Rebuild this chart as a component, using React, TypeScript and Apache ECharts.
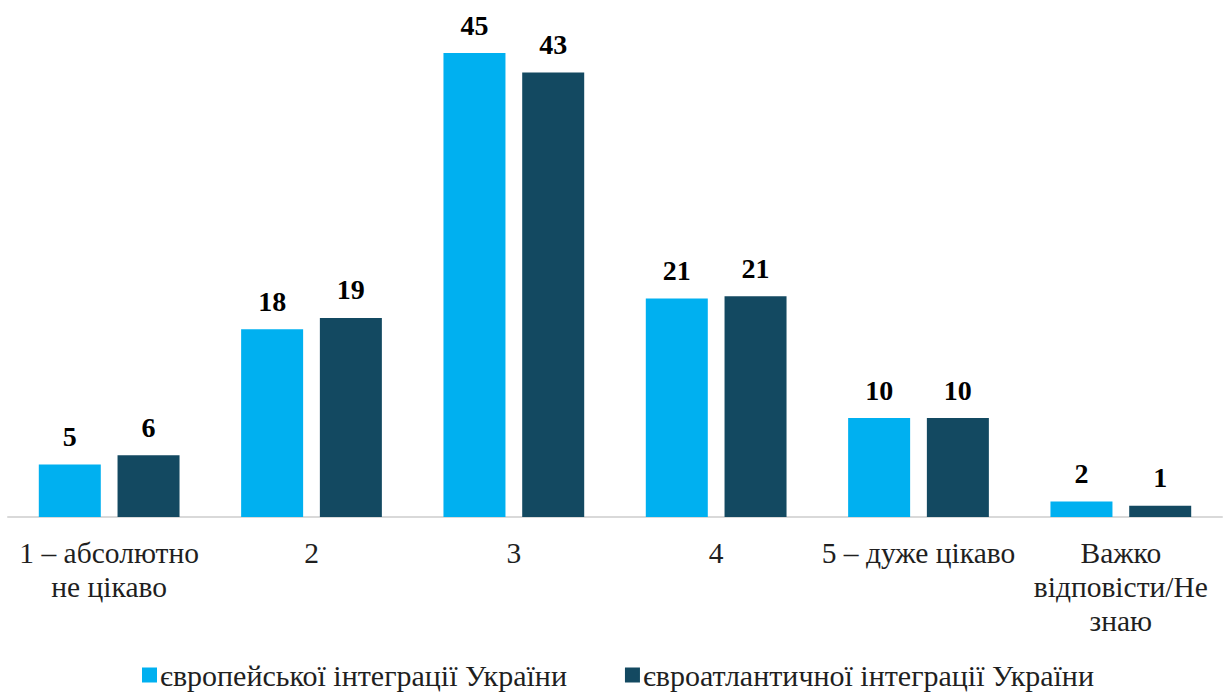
import React, { useEffect, useRef } from "react";
import * as echarts from "echarts";

const categories = [
  "1 – абсолютно\nне цікаво",
  "2",
  "3",
  "4",
  "5 – дуже цікаво",
  "Важко\nвідповісти/Не\nзнаю",
];
const seriesNames = ["європейської інтеграції України", "євроатлантичної інтеграції України"];
const european = [5.1, 18.2, 45, 21.2, 9.6, 1.5];
const euroAtlantic = [6.0, 19.3, 43.1, 21.4, 9.6, 1.1];
const colors = ["#00B0F0", "#134961"];

const FONT = "Times New Roman";

export default function App() {
  const ref = useRef<HTMLDivElement>(null);
  useEffect(() => {
    if (!ref.current) return;
    const chart = echarts.init(ref.current, null, { renderer: "svg" });
    const label = {
      show: true,
      position: "top",
      distance: 14,
      fontFamily: FONT,
      fontWeight: "bold",
      fontSize: 28,
      color: "#000",
      formatter: (p: any) => String(Math.round(p.value)),
    };
    chart.setOption({
      animation: false,
      textStyle: { fontFamily: FONT },
      grid: { left: 8, right: 7, top: 53, bottom: 176, containLabel: false },
      legend: {
        top: 660,
        left: 142,
        padding: 0,
        itemWidth: 15,
        itemHeight: 15,
        itemGap: 58,
        icon: "rect",
        textStyle: { fontFamily: FONT, fontSize: 30, color: "#1F1F1F", padding: [0, 0, 0, -2] },
        data: seriesNames,
      },
      xAxis: {
        type: "category",
        data: categories,
        axisLine: { lineStyle: { color: "#D9D9D9", width: 2 } },
        axisTick: { show: false },
        axisLabel: {
          interval: 0,
          fontFamily: FONT,
          fontSize: 29.5,
          lineHeight: 34,
          color: "#1F1F1F",
          margin: 19,
        },
      },
      yAxis: { type: "value", min: 0, max: 45, show: false, splitLine: { show: false } },
      series: [
        {
          name: seriesNames[0],
          type: "bar",
          data: european,
          barWidth: 62,
          barGap: "27%",
          itemStyle: { color: colors[0] },
          label,
        },
        {
          name: seriesNames[1],
          type: "bar",
          data: euroAtlantic,
          barWidth: 62,
          barGap: "27%",
          itemStyle: { color: colors[1] },
          label,
        },
      ],
    });
    return () => chart.dispose();
  }, []);
  return (
    <div
      ref={ref}
      style={{ position: "fixed", left: 0, top: 0, width: 1229, height: 693, background: "#fff" }}
    />
  );
}
